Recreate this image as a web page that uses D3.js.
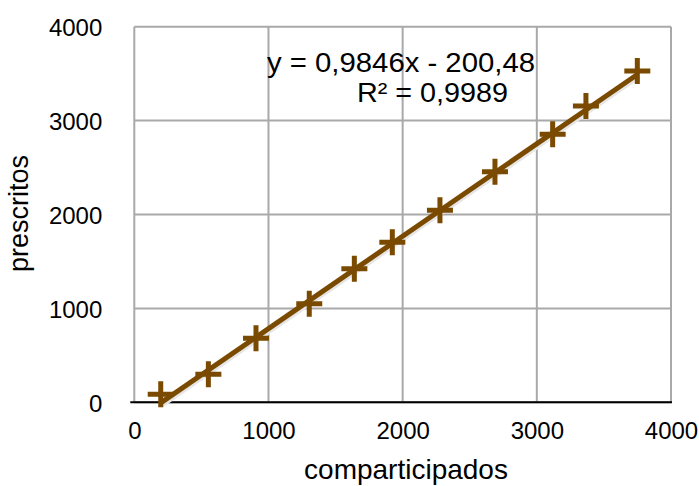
<!DOCTYPE html>
<html><head><meta charset="utf-8">
<script src="https://cdn.jsdelivr.net/npm/d3@7"></script>
<style>
html,body{margin:0;padding:0;background:#fff;overflow:hidden;}
text{font-family:"Liberation Sans",Arial,Helvetica,sans-serif;fill:#000;}
</style></head>
<body>
<script>
const comparticipados = [197, 552, 907, 1304, 1640, 1923, 2278, 2688, 3118, 3366, 3749];
const prescritos      = [85, 298, 682, 1050, 1423, 1704, 2045, 2456, 2854, 3155, 3528];
const xTicks = [0, 1000, 2000, 3000, 4000];
const yTicks = [0, 1000, 2000, 3000, 4000];
const trendSlope = 0.9846, trendIntercept = -200.48;
const eqLine1 = "y = 0,9846x - 200,48";
const eqLine2 = "R² = 0,9989";
const xTitle = "comparticipados", yTitle = "prescritos";

const W = 699, H = 486;
const L = 134.3, R = 671, T = 26.7, B = 402.3;
const brown = "#7a4a00", grid = "#a9a9a9";

const svg = d3.select("body").append("svg").attr("width", W).attr("height", H)
  .style("display", "block");
const x = d3.scaleLinear().domain([0, 4000]).range([L, R]);
const y = d3.scaleLinear().domain([0, 4000]).range([B, T]);

// gridlines
svg.append("g").selectAll("line").data(xTicks).join("line")
  .attr("x1", d => x(d)).attr("x2", d => x(d)).attr("y1", T).attr("y2", B)
  .attr("stroke", grid).attr("stroke-width", 2);
svg.append("g").selectAll("line").data(yTicks).join("line")
  .attr("x1", L).attr("x2", R).attr("y1", d => y(d)).attr("y2", d => y(d))
  .attr("stroke", grid).attr("stroke-width", 2);

// axes
const yAxis = svg.append("g").attr("transform", `translate(${L},0)`)
  .call(d3.axisLeft(y).tickValues(yTicks).tickSize(0).tickPadding(32).tickFormat(d3.format("d")));
yAxis.select(".domain").remove();
yAxis.selectAll("text").attr("font-size", 24).attr("dy", "0.38em")
  .style("font-family", "Liberation Sans, Arial, sans-serif");

const xAxis = svg.append("g").attr("transform", `translate(0,${B})`)
  .call(d3.axisBottom(x).tickValues(xTicks).tickSize(0).tickPadding(20).tickFormat(d3.format("d")));
xAxis.select(".domain").remove();
xAxis.selectAll("text").attr("font-size", 24)
  .style("font-family", "Liberation Sans, Arial, sans-serif");

svg.append("line").attr("x1", L - 4).attr("x2", R + 1).attr("y1", B).attr("y2", B)
  .attr("stroke", "#000").attr("stroke-width", 2);

// trendline
const x0 = d3.min(comparticipados), x1 = d3.max(comparticipados);
const tl = [[x0, trendSlope * x0 + trendIntercept], [x1, trendSlope * x1 + trendIntercept]];
const lineGen = d3.line().x(d => x(d[0])).y(d => y(d[1]));
svg.append("path").attr("d", lineGen(tl)).attr("transform", "translate(1.5,2)")
  .attr("stroke", "#e6e6e6").attr("stroke-width", 5).attr("fill", "none");
svg.append("path").attr("d", lineGen(tl))
  .attr("stroke", brown).attr("stroke-width", 5).attr("fill", "none");

// markers
const pts = comparticipados.map((v, i) => [v, prescritos[i]]);
svg.append("g").selectAll("path").data(pts).join("path")
  .attr("d", d => {
    const cx = x(d[0]), cy = y(d[1]), h = 13;
    return `M${cx - h},${cy}H${cx + h}M${cx},${cy - h}V${cy + h}`;
  })
  .attr("stroke", brown).attr("stroke-width", 5).attr("fill", "none");

// equation
svg.append("text").attr("x", 267).attr("y", 72).attr("font-size", 28)
  .attr("textLength", 268).attr("lengthAdjust", "spacingAndGlyphs").text(eqLine1);
svg.append("text").attr("x", 357).attr("y", 101.5).attr("font-size", 28)
  .attr("textLength", 151).attr("lengthAdjust", "spacingAndGlyphs").text(eqLine2);

// axis titles
svg.append("text").attr("text-anchor", "middle").attr("font-size", 28)
  .attr("x", 406).attr("y", 479).text(xTitle);
svg.append("text").attr("text-anchor", "middle").attr("font-size", 27)
  .attr("transform", "translate(28,213.5) rotate(-90)").text(yTitle);
</script>
</body></html>
